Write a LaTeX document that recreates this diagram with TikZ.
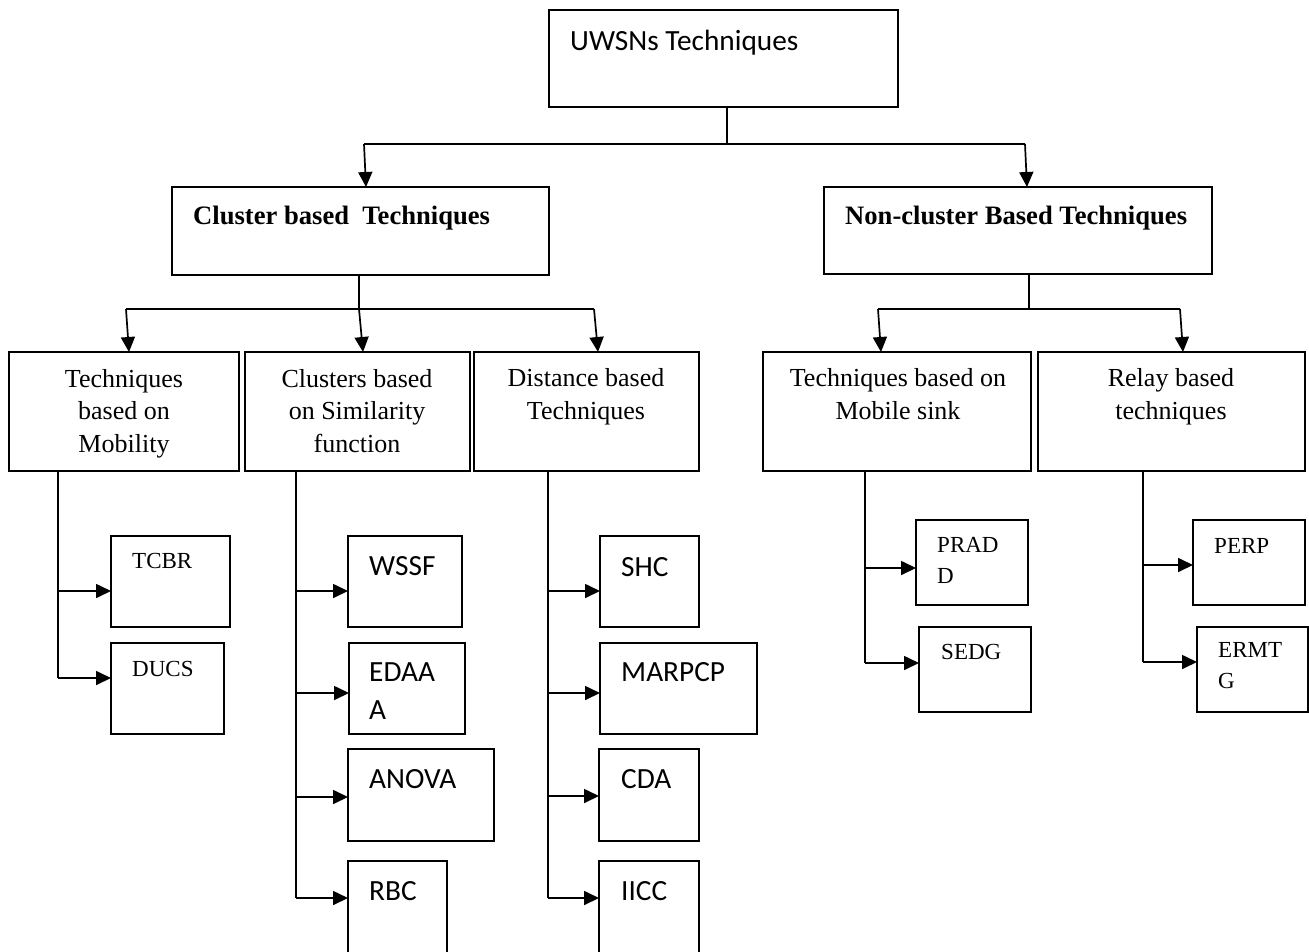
\documentclass[tikz,border=0pt]{standalone}
\usepackage{fontspec}
\setmainfont{Liberation Serif}
\newfontfamily\calib{Carlito}
\usetikzlibrary{arrows.meta}
\tikzset{
  box/.style={draw, line width=1.3pt, rectangle, inner sep=0pt, outer sep=0pt},
  conn/.style={line width=1.7pt},
  arr/.style={conn, -{Triangle[length=15pt,width=14pt]}},
  mid/.style={inner sep=0pt, align=center, font=\fontsize{26}{32.5}\selectfont},
  bld/.style={inner sep=0pt, font=\fontsize{26.6}{32}\selectfont\bfseries},
  small/.style={inner sep=0pt, align=left, font=\fontsize{23}{30.5}\selectfont},
  sans/.style={inner sep=0pt, align=left, font=\calib\fontsize{29.3}{38}\selectfont},
}
\newcommand\mkbox[5]{\node[box, anchor=north west, minimum width=#4pt-#2pt, minimum height=#5pt-#3pt] (#1) at (#2,#3) {};}
\begin{document}
\begin{tikzpicture}[x=1pt,y=-1pt]
\useasboundingbox (0,0) rectangle (1309,951);
% level 0
\mkbox{top}{549}{10}{898}{107}
\node[sans, anchor=base west] (ttop) at (570,50) {UWSNs Techniques};
% level 1
\mkbox{cl}{172}{187}{549}{275}
\node[bld, anchor=base west] (tcl) at (193,224) {Cluster based\ \ Techniques};
\mkbox{nc}{824}{187}{1212}{274}
\node[bld, anchor=base west] (tnc) at (845,224) {Non-cluster Based Techniques};
% level 2 (base anchor = last line)
\mkbox{b1}{9}{352}{239}{471}
\mkbox{b2}{245}{352}{470}{471}
\mkbox{b3}{474}{352}{699}{471}
\mkbox{b4}{763}{352}{1031}{471}
\mkbox{b5}{1038}{352}{1305}{471}
\node[mid, anchor=base] (tb1) at (124,452) {Techniques\\based on\\Mobility};
\node[mid, anchor=base] (tb2) at (357,452) {Clusters based\\on Similarity\\function};
\node[mid, anchor=base] (tb3) at (586,419) {Distance based\\Techniques};
\node[mid, anchor=base] (tb4) at (898,419) {Techniques based on\\Mobile sink};
\node[mid, anchor=base] (tb5) at (1171,419) {Relay based\\techniques};
% leaves column 1
\mkbox{tcbr}{111}{536}{230}{627}
\node[small, anchor=base west] (ttcbr) at (132,568) {TCBR};
\mkbox{ducs}{111}{643}{224}{734}
\node[small, anchor=base west] (tducs) at (132,676) {DUCS};
% leaves column 2
\mkbox{wssf}{348}{536}{462}{627}
\node[sans, anchor=base west] (twssf) at (369,575) {WSSF};
\mkbox{edaa}{349}{643}{465}{734}
\node[sans, anchor=base west] (tedaa) at (369,719) {EDAA\\A};
\mkbox{anova}{348}{749}{494}{841}
\node[sans, anchor=base west] (tanova) at (369,788) {ANOVA};
\mkbox{rbc}{348}{861}{447}{965}
\node[sans, anchor=base west] (trbc) at (369,900) {RBC};
% leaves column 3
\mkbox{shc}{600}{536}{699}{627}
\node[sans, anchor=base west] (tshc) at (621,576) {SHC};
\mkbox{marpcp}{600}{643}{757}{734}
\node[sans, anchor=base west] (tmarpcp) at (621,681) {MARPCP};
\mkbox{cda}{599}{749}{699}{841}
\node[sans, anchor=base west] (tcda) at (621,788) {CDA};
\mkbox{iicc}{599}{861}{699}{965}
\node[sans, anchor=base west] (tiicc) at (621,900) {IICC};
% leaves column 4
\mkbox{prad}{916}{520}{1028}{605}
\node[small, anchor=base west] (tprad) at (937,583) {PRAD\\D};
\mkbox{sedg}{919}{627}{1031}{712}
\node[small, anchor=base west] (tsedg) at (941,659) {SEDG};
% leaves column 5
\mkbox{perp}{1193}{520}{1305}{605}
\node[small, anchor=base west] (tperp) at (1214,553) {PERP};
\mkbox{ermtg}{1197}{627}{1308}{712}
\node[small, anchor=base west] (termtg) at (1218,688) {ERMT\\G};
% ---- connectors level 0 -> 1
\coordinate (j0) at (727,144);
\coordinate (h0l) at (364,144);
\coordinate (h0r) at (1025,144);
\coordinate (e0l) at (366,187);
\coordinate (e0r) at (1027,187);
\draw[conn] (j0 |- top.south) -- (j0);
\draw[conn] (h0l) -- (h0r);
\draw[arr] (h0l) -- (e0l);
\draw[arr] (h0r) -- (e0r);
% ---- cluster -> level 2
\coordinate (j1) at (359,309);
\coordinate (h1l) at (126,309);
\coordinate (h1r) at (594,309);
\coordinate (e1a) at (129,352);
\coordinate (e1b) at (363,352);
\coordinate (e1c) at (598,352);
\draw[conn] (j1 |- cl.south) -- (j1);
\draw[conn] (h1l) -- (h1r);
\draw[arr] (h1l) -- (e1a);
\draw[arr] (j1) -- (e1b);
\draw[arr] (h1r) -- (e1c);
% ---- non-cluster -> level 2
\coordinate (j2) at (1029,309);
\coordinate (h2l) at (878,309);
\coordinate (h2r) at (1180,309);
\coordinate (e2a) at (881,352);
\coordinate (e2b) at (1183,352);
\draw[conn] (j2 |- nc.south) -- (j2);
\draw[conn] (h2l) -- (h2r);
\draw[arr] (h2l) -- (e2a);
\draw[arr] (h2r) -- (e2b);
% ---- column 1
\coordinate (k1a) at (58,591);
\coordinate (k1b) at (58,678);
\draw[conn] (k1a |- b1.south) -- (k1b);
\draw[arr] (k1a) -- (k1a -| tcbr.west);
\draw[arr] (k1b) -- (k1b -| ducs.west);
% ---- column 2
\coordinate (k2a) at (296,591);
\coordinate (k2b) at (296,693);
\coordinate (k2c) at (296,797);
\coordinate (k2d) at (296,898);
\draw[conn] (k2a |- b2.south) -- (k2d);
\draw[arr] (k2a) -- (k2a -| wssf.west);
\draw[arr] (k2b) -- (k2b -| edaa.west);
\draw[arr] (k2c) -- (k2c -| anova.west);
\draw[arr] (k2d) -- (k2d -| rbc.west);
% ---- column 3
\coordinate (k3a) at (548,591);
\coordinate (k3b) at (548,693);
\coordinate (k3c) at (548,796);
\coordinate (k3d) at (548,898);
\draw[conn] (k3a |- b3.south) -- (k3d);
\draw[arr] (k3a) -- (k3a -| shc.west);
\draw[arr] (k3b) -- (k3b -| marpcp.west);
\draw[arr] (k3c) -- (k3c -| cda.west);
\draw[arr] (k3d) -- (k3d -| iicc.west);
% ---- column 4
\coordinate (k4a) at (865,568);
\coordinate (k4b) at (865,663);
\draw[conn] (k4a |- b4.south) -- (k4b);
\draw[arr] (k4a) -- (k4a -| prad.west);
\draw[arr] (k4b) -- (k4b -| sedg.west);
% ---- column 5
\coordinate (k5a) at (1143,565);
\coordinate (k5b) at (1143,662);
\draw[conn] (k5a |- b5.south) -- (k5b);
\draw[arr] (k5a) -- (k5a -| perp.west);
\draw[arr] (k5b) -- (k5b -| ermtg.west);
\end{tikzpicture}
\end{document}
